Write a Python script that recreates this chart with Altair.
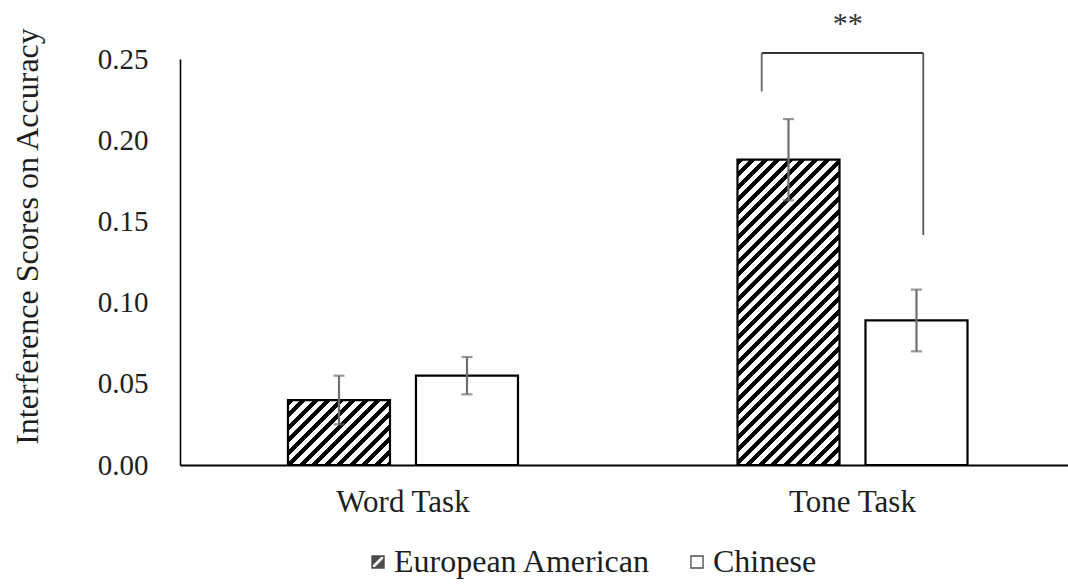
import altair as alt
import pandas as pd

# ---- data -------------------------------------------------------------
tasks = ["Word Task", "Tone Task"]
groups = ["European American", "Chinese"]

word_means = [0.040, 0.055]
word_errs = [0.015, 0.0115]
tone_means = [0.188, 0.089]
tone_errs = [0.025, 0.019]

y_ticks = [0.00, 0.05, 0.10, 0.15, 0.20, 0.25]

# significance bracket over the Tone Task pair
bracket_top = 0.2537
bracket_left_end = 0.230
bracket_right_end = 0.1416
star_label = "**"

rows = []
for task, means, errs in [(tasks[0], word_means, word_errs),
                          (tasks[1], tone_means, tone_errs)]:
    for g, m, e in zip(groups, means, errs):
        rows.append({"task": task, "group": g, "score": m,
                     "lo": m - e, "hi": m + e})
df = pd.DataFrame(rows)

# ---- layout / style ---------------------------------------------------
W, H = 888, 406
PAD = {"left": 180, "top": 59, "right": 0, "bottom": 119}
Y_MAX = 0.25
BAR_W = 102
SERIF = "Liberation Serif"
TXT = "#1e1e1e"
ERR = "#6e6e6e"


def hatch(w, h, period=12.5, ink=0.48):
    """Diagonal '/' stripes as a linear gradient over a w x h box."""
    span = w + h
    k = span / (w * w + h * h)
    stops = []
    i = 0
    while i * period < span:
        a = i * period / span
        b = (i * period + ink * period) / span
        c = (i + 1) * period / span
        for off, col in [(a, "black"), (b, "black"), (b, "white"), (c, "white")]:
            stops.append(alt.GradientStop(offset=min(off, 1.0), color=col))
        i += 1
    return alt.LinearGradient(gradient="linear", stops=stops,
                              x1=0, y1=0, x2=k * w, y2=k * h)


x_scale = alt.Scale(domain=tasks, paddingInner=0.1, paddingOuter=0.03775, align=0.61)
off_scale = alt.Scale(domain=groups, paddingInner=0.203, paddingOuter=0.6818)
y_scale = alt.Scale(domain=[0, Y_MAX], nice=False)

x_enc = alt.X("task:N", scale=x_scale, sort=tasks, title=None,
              axis=alt.Axis(labelAngle=0, ticks=False, labelPadding=22,
                            labelFont=SERIF, labelFontSize=31, labelColor=TXT,
                            domainColor="black", domainWidth=2.2))
xo_enc = alt.XOffset("group:N", scale=off_scale, sort=groups)
y_enc = alt.Y("score:Q", scale=y_scale,
              axis=alt.Axis(values=y_ticks, format=".2f", grid=False, ticks=False,
                            labelPadding=32, labelFont=SERIF, labelFontSize=29,
                            labelColor=TXT, domainColor="black", domainWidth=1.6,
                            title="Interference Scores on Accuracy",
                            titleFont=SERIF, titleFontSize=32, titleFontWeight="normal",
                            titleColor=TXT, titleAngle=270, titleAlign="center",
                            titleBaseline="middle", titleX=-153, titleY=177))

base = alt.Chart(df).encode(x=x_enc, xOffset=xo_enc)

layers = []
# hatched European American bars, one per task so each gets a 45-degree hatch
for task, means in [(tasks[0], word_means), (tasks[1], tone_means)]:
    h_px = means[0] / Y_MAX * H
    layers.append(
        base.transform_filter(
            (alt.datum.task == task) & (alt.datum.group == groups[0])
        ).mark_bar(fill=hatch(BAR_W, h_px), stroke="black", strokeWidth=2.2)
        .encode(y=y_enc)
    )

# plain Chinese bars
layers.append(
    base.transform_filter(alt.datum.group == groups[1])
    .mark_bar(fill="white", stroke="black", strokeWidth=2.2)
    .encode(y=y_enc)
)

# error bars with caps
layers.append(base.mark_rule(color=ERR, strokeWidth=2.2)
              .encode(y=alt.Y("lo:Q", scale=y_scale), y2="hi:Q"))
for fld in ["lo", "hi"]:
    layers.append(base.mark_tick(color=ERR, thickness=2.2, size=11)
                  .encode(y=alt.Y(f"{fld}:Q", scale=y_scale)))

# legend: invisible points carrying the shape scale
EA_PATH = ("M-1,-1H1V1H-1Z M-0.76,-0.76V0.76H0.76V-0.76Z "
           "M-1,-1H0.72L-1,0.72Z M1,1H-0.72L1,-0.72Z")
CN_PATH = "M-1,-1H1V1H-1Z M-0.8,-0.8V0.8H0.8V-0.8Z"
layers.append(
    base.mark_point(filled=True, size=0, color="black").encode(
        y=alt.Y("score:Q", scale=y_scale),
        shape=alt.Shape("group:N", sort=groups,
                        scale=alt.Scale(domain=groups, range=[EA_PATH, CN_PATH]),
                        legend=alt.Legend(orient="none", direction="horizontal",
                                          legendX=182, legendY=487, title=None,
                                          symbolSize=180, symbolStrokeWidth=0,
                                          symbolFillColor="black",
                                          labelFont=SERIF, labelFontSize=32,
                                          labelColor=TXT, labelOffset=0,
                                          labelLimit=0, columnPadding=30)),
    )
)

# significance bracket and stars
sig = alt.Chart(pd.DataFrame({"task": [tasks[1]]}))
layers.append(sig.mark_rule(color="#333333", strokeWidth=2).encode(
    x=alt.X("task:N", scale=x_scale, sort=tasks, bandPosition=0.2756),
    x2=alt.X2("task", bandPosition=0.675),
    y=alt.datum(bracket_top)))
layers.append(sig.mark_rule(color="#666666", strokeWidth=1.8).encode(
    x=alt.X("task:N", scale=x_scale, sort=tasks, bandPosition=0.2756),
    y=alt.datum(bracket_top), y2=alt.datum(bracket_left_end)))
layers.append(sig.mark_rule(color="#555555", strokeWidth=1.8).encode(
    x=alt.X("task:N", scale=x_scale, sort=tasks, bandPosition=0.675),
    y=alt.datum(bracket_top), y2=alt.datum(bracket_right_end)))
layers.append(sig.mark_text(text=star_label, font=SERIF, fontSize=30,
                            color="#333333", baseline="alphabetic", dy=-26).encode(
    x=alt.X("task:N", scale=x_scale, sort=tasks, bandPosition=0.488),
    y=alt.datum(Y_MAX)))

chart = alt.layer(*layers).properties(
    width=W, height=H, padding=PAD, autosize=alt.AutoSizeParams(type="none"),
    background="white",
).configure_view(stroke=None)

chart.save("out.html", embed_options={"renderer": "svg", "actions": False})
